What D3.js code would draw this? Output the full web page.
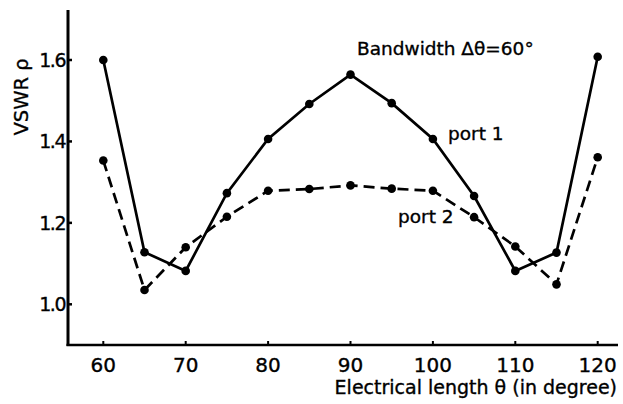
<!DOCTYPE html>
<html>
<head>
<meta charset="utf-8">
<script src="https://cdn.jsdelivr.net/npm/d3@7"></script>
<style>
  html, body { margin: 0; padding: 0; background: #fff; }
  svg { display: block; }
  text { font-family: "DejaVu Sans", "Noto Sans", sans-serif; fill: #000; stroke: #000; stroke-width: 0.35px; }
</style>
</head>
<body>
<svg id="chart" width="623" height="404"></svg>
<script>
// Electrical length (degrees)
const theta = [60, 65, 70, 75, 80, 85, 90, 95, 100, 105, 110, 115, 120];
// VSWR measured at each port
const port1 = [1.60, 1.128, 1.082, 1.273, 1.406, 1.492, 1.564, 1.494, 1.406, 1.266, 1.082, 1.127, 1.608];
const port2 = [1.353, 1.035, 1.140, 1.215, 1.279, 1.283, 1.292, 1.284, 1.279, 1.214, 1.142, 1.049, 1.361];
const xTicks = [60, 70, 80, 90, 100, 110, 120];
const yTicks = [1.0, 1.2, 1.4, 1.6];
const yTickLabels = ["1.0", "1.2", "1.4", "1.6"];

const svg = d3.select("#chart");

const x = d3.scaleLinear().domain([60, 120]).range([103.3, 597.7]);
const y = d3.scaleLinear().domain([1.0, 1.6]).range([304.3, 60]);

const axisX0 = 68, axisY0 = 345;

// axes frame
svg.append("line")
  .attr("x1", axisX0).attr("x2", axisX0)
  .attr("y1", 10).attr("y2", axisY0 + 1)
  .attr("stroke", "#000").attr("stroke-width", 3);
svg.append("line")
  .attr("x1", axisX0 - 1.5).attr("x2", 618)
  .attr("y1", axisY0).attr("y2", axisY0)
  .attr("stroke", "#000").attr("stroke-width", 2.6);

// y ticks and labels
const gy = svg.append("g");
gy.selectAll("line").data(yTicks).join("line")
  .attr("x1", axisX0).attr("x2", axisX0 + 4)
  .attr("y1", d => y(d)).attr("y2", d => y(d))
  .attr("stroke", "#000").attr("stroke-width", 2.5);
gy.selectAll("text").data(yTicks).join("text")
  .attr("x", 65).attr("y", d => y(d))
  .attr("dy", "0.36em")
  .attr("text-anchor", "end")
  .attr("font-size", 19)
  .attr("letter-spacing", -1.5)
  .text((d, i) => yTickLabels[i]);

// x ticks and labels
const gx = svg.append("g");
gx.selectAll("line").data(xTicks).join("line")
  .attr("x1", d => x(d)).attr("x2", d => x(d))
  .attr("y1", axisY0).attr("y2", axisY0 - 4)
  .attr("stroke", "#000").attr("stroke-width", 2);
gx.selectAll("text").data(xTicks).join("text")
  .attr("x", d => x(d)).attr("y", 372)
  .attr("text-anchor", "middle")
  .attr("font-size", 20)
  .attr("letter-spacing", 0)
  .text(d => d);

// axis titles
svg.append("text")
  .attr("transform", "translate(28,97) rotate(-90)")
  .attr("text-anchor", "middle")
  .attr("font-size", 19.5)
  .text("VSWR \u03C1");
svg.append("text")
  .attr("x", 617).attr("y", 394)
  .attr("text-anchor", "end")
  .attr("font-size", 19)
  .text("Electrical  length \u03B8 (in degree)");

// annotations
svg.append("text")
  .attr("x", 357).attr("y", 55)
  .attr("font-size", 18.5)
  .text("Bandwidth \u0394\u03B8=60\u00B0");
svg.append("text")
  .attr("x", 448).attr("y", 140)
  .attr("font-size", 18.5)
  .text("port 1");
svg.append("text")
  .attr("x", 398).attr("y", 223)
  .attr("font-size", 18.5)
  .text("port 2");

const line = d3.line().x((d, i) => x(theta[i])).y(d => y(d));

function drawSeries(values, dash) {
  svg.append("path")
    .datum(values)
    .attr("d", line)
    .attr("fill", "none")
    .attr("stroke", "#000")
    .attr("stroke-width", 2.7)
    .attr("stroke-dasharray", dash);
  svg.append("g").selectAll("circle").data(values).join("circle")
    .attr("cx", (d, i) => x(theta[i]))
    .attr("cy", d => y(d))
    .attr("r", 4.3)
    .attr("fill", "#000");
}

drawSeries(port1, null);
drawSeries(port2, "11,6");
</script>
</body>
</html>
